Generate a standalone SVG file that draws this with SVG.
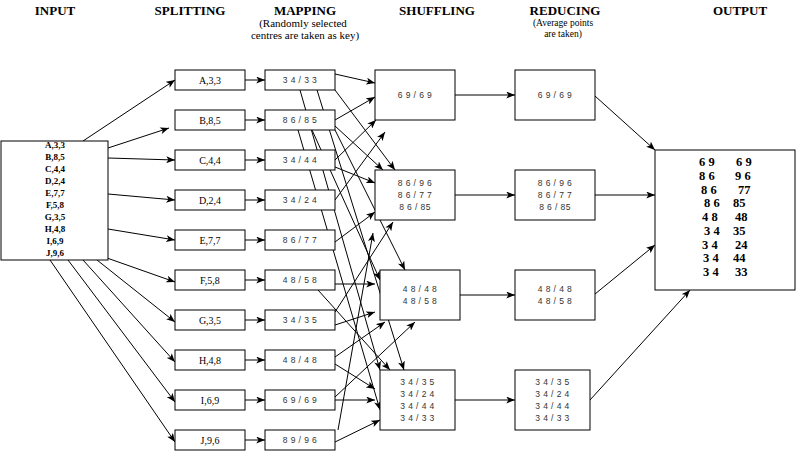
<svg xmlns="http://www.w3.org/2000/svg" width="796" height="452" viewBox="0 0 796 452">
<defs>
<marker id="ah" viewBox="0 0 10 8" refX="10" refY="4" markerWidth="9" markerHeight="7" markerUnits="userSpaceOnUse" orient="auto">
<path d="M0,0 L10,4 L0,8 L2.5,4 z" fill="#000"/>
</marker>
<style>
.hd{font-family:"Liberation Serif","Times New Roman",serif;font-weight:bold;font-size:13px;text-anchor:middle;fill:#000}
.sub{font-family:"Liberation Serif","Times New Roman",serif;font-size:11px;text-anchor:middle;fill:#000}
.sub2{font-family:"Liberation Serif","Times New Roman",serif;font-size:9.5px;text-anchor:middle;fill:#000}
.box{fill:#fff;stroke:#000;stroke-width:1}
.in{font-family:"Liberation Serif","Times New Roman",serif;font-weight:bold;font-size:9px;text-anchor:middle;fill:#000}
.sp{font-family:"Liberation Serif","Times New Roman",serif;font-size:10px;text-anchor:middle;fill:#000}
.kv{font-family:"Liberation Sans",Arial,sans-serif;font-size:8.5px;text-anchor:middle;fill:#333;white-space:pre;letter-spacing:0.4px}
.out{font-family:"Liberation Serif","Times New Roman",serif;font-weight:bold;font-size:12.5px;fill:#000;white-space:pre}
.c line{stroke:#000;stroke-width:1;marker-end:url(#ah)}
</style>
</defs>
<rect width="796" height="452" fill="#fff"/>
<g id="headers">
<text class="hd" x="55" y="15">INPUT</text>
<text class="hd" x="190" y="15">SPLITTING</text>
<text class="hd" x="305" y="15">MAPPING</text>
<text class="sub" x="303" y="27">(Randomly selected</text>
<text class="sub" x="305" y="39">centres are taken as key)</text>
<text class="hd" x="437" y="15">SHUFFLING</text>
<text class="hd" x="565" y="15">REDUCING</text>
<text class="sub2" x="563" y="26">(Average points</text>
<text class="sub2" x="563" y="37">are taken)</text>
<text class="hd" x="740" y="15">OUTPUT</text>
</g>
<g id="connectors" class="c">
<line x1="83" y1="141" x2="175" y2="80"/>
<line x1="108" y1="148" x2="169" y2="128"/>
<line x1="108" y1="158" x2="175" y2="160"/>
<line x1="108" y1="194" x2="175" y2="200"/>
<line x1="108" y1="229" x2="175" y2="240"/>
<line x1="107" y1="258" x2="175" y2="282"/>
<line x1="97" y1="260" x2="175" y2="322"/>
<line x1="83" y1="260" x2="175" y2="362"/>
<line x1="68" y1="260" x2="175" y2="402"/>
<line x1="50" y1="260" x2="175" y2="442"/>
<line x1="245" y1="80" x2="265" y2="80"/>
<line x1="245" y1="120" x2="265" y2="120"/>
<line x1="245" y1="160" x2="265" y2="160"/>
<line x1="245" y1="200" x2="265" y2="200"/>
<line x1="245" y1="240" x2="265" y2="240"/>
<line x1="245" y1="280" x2="265" y2="280"/>
<line x1="245" y1="320" x2="265" y2="320"/>
<line x1="245" y1="360" x2="265" y2="360"/>
<line x1="245" y1="400" x2="265" y2="400"/>
<line x1="245" y1="440" x2="265" y2="440"/>
<line x1="335" y1="74" x2="375" y2="83"/>
<line x1="335" y1="90" x2="395" y2="170"/>
<line x1="300" y1="90" x2="380" y2="370"/>
<line x1="317" y1="90" x2="404" y2="370"/>
<line x1="335" y1="120" x2="375" y2="97"/>
<line x1="335" y1="126" x2="383" y2="170"/>
<line x1="335" y1="130" x2="405" y2="270"/>
<line x1="298" y1="130" x2="380" y2="410"/>
<line x1="312" y1="130" x2="380" y2="280"/>
<line x1="335" y1="160" x2="376" y2="120"/>
<line x1="335" y1="167" x2="375" y2="183"/>
<line x1="335" y1="200" x2="385" y2="132"/>
<line x1="335" y1="242" x2="375" y2="212"/>
<line x1="335" y1="284" x2="375" y2="284"/>
<line x1="318" y1="290" x2="390" y2="370"/>
<line x1="335" y1="325" x2="375" y2="312"/>
<line x1="335" y1="312" x2="393" y2="222"/>
<line x1="335" y1="357" x2="385" y2="322"/>
<line x1="335" y1="364" x2="375" y2="389"/>
<line x1="335" y1="397" x2="415" y2="322"/>
<line x1="335" y1="400" x2="375" y2="400"/>
<line x1="338" y1="430" x2="373" y2="233"/>
<line x1="335" y1="442" x2="380" y2="420"/>
<line x1="455" y1="95" x2="515" y2="95"/>
<line x1="455" y1="195" x2="515" y2="195"/>
<line x1="460" y1="295" x2="515" y2="295"/>
<line x1="455" y1="400" x2="515" y2="400"/>
<line x1="595" y1="96" x2="655" y2="150"/>
<line x1="595" y1="195" x2="655" y2="195"/>
<line x1="595" y1="294" x2="655" y2="245"/>
<line x1="590" y1="400" x2="690" y2="290"/>
</g>
<g id="input">
<rect class="box" x="1" y="141" width="107" height="119"/>
<text class="in" x="55" y="148">A,3,3</text>
<text class="in" x="55" y="160">B,8,5</text>
<text class="in" x="55" y="172">C,4,4</text>
<text class="in" x="55" y="184">D,2,4</text>
<text class="in" x="55" y="196">E,7,7</text>
<text class="in" x="55" y="208">F,5,8</text>
<text class="in" x="55" y="220">G,3,5</text>
<text class="in" x="55" y="232">H,4,8</text>
<text class="in" x="55" y="244">I,6,9</text>
<text class="in" x="55" y="256">J,9,6</text>
</g>
<g id="split-a"><rect class="box" x="175" y="70" width="70" height="20"/><text class="sp" x="210" y="83.5">A,3,3</text></g>
<g id="split-b"><rect class="box" x="175" y="110" width="70" height="20"/><text class="sp" x="210" y="123.5">B,8,5</text></g>
<g id="split-c"><rect class="box" x="175" y="150" width="70" height="20"/><text class="sp" x="210" y="163.5">C,4,4</text></g>
<g id="split-d"><rect class="box" x="175" y="190" width="70" height="20"/><text class="sp" x="210" y="203.5">D,2,4</text></g>
<g id="split-e"><rect class="box" x="175" y="230" width="70" height="20"/><text class="sp" x="210" y="243.5">E,7,7</text></g>
<g id="split-f"><rect class="box" x="175" y="270" width="70" height="20"/><text class="sp" x="210" y="283.5">F,5,8</text></g>
<g id="split-g"><rect class="box" x="175" y="310" width="70" height="20"/><text class="sp" x="210" y="323.5">G,3,5</text></g>
<g id="split-h"><rect class="box" x="175" y="350" width="70" height="20"/><text class="sp" x="210" y="363.5">H,4,8</text></g>
<g id="split-i"><rect class="box" x="175" y="390" width="70" height="20"/><text class="sp" x="210" y="403.5">I,6,9</text></g>
<g id="split-j"><rect class="box" x="175" y="430" width="70" height="20"/><text class="sp" x="210" y="443.5">J,9,6</text></g>
<g id="map-a"><rect class="box" x="265" y="70" width="70" height="20"/><text class="kv" x="300" y="83">3 4 / 3 3</text></g>
<g id="map-b"><rect class="box" x="265" y="110" width="70" height="20"/><text class="kv" x="300" y="123">8 6 / 8 5</text></g>
<g id="map-c"><rect class="box" x="265" y="150" width="70" height="20"/><text class="kv" x="300" y="163">3 4 / 4 4</text></g>
<g id="map-d"><rect class="box" x="265" y="190" width="70" height="20"/><text class="kv" x="300" y="203">3 4 / 2 4</text></g>
<g id="map-e"><rect class="box" x="265" y="230" width="70" height="20"/><text class="kv" x="300" y="243">8 6 / 7 7</text></g>
<g id="map-f"><rect class="box" x="265" y="270" width="70" height="20"/><text class="kv" x="300" y="283">4 8 / 5 8</text></g>
<g id="map-g"><rect class="box" x="265" y="310" width="70" height="20"/><text class="kv" x="300" y="323">3 4 / 3 5</text></g>
<g id="map-h"><rect class="box" x="265" y="350" width="70" height="20"/><text class="kv" x="300" y="363">4 8 / 4 8</text></g>
<g id="map-i"><rect class="box" x="265" y="390" width="70" height="20"/><text class="kv" x="300" y="403">6 9 / 6 9</text></g>
<g id="map-j"><rect class="box" x="265" y="430" width="70" height="20"/><text class="kv" x="300" y="443">8 9 / 9 6</text></g>
<g id="shuffle-1"><rect class="box" x="375" y="70" width="80" height="50"/><text class="kv" x="415" y="98">6 9 / 6 9</text></g>
<g id="shuffle-2"><rect class="box" x="375" y="170" width="80" height="50"/>
<text class="kv" x="415" y="186">8 6 / 9 6</text><text class="kv" x="415" y="198">8 6 / 7 7</text><text class="kv" x="415" y="210">8 6 / 85</text></g>
<g id="shuffle-3"><rect class="box" x="380" y="270" width="80" height="50"/>
<text class="kv" x="420" y="292">4 8 / 4 8</text><text class="kv" x="420" y="304">4 8 / 5 8</text></g>
<g id="shuffle-4"><rect class="box" x="380" y="370" width="75" height="60"/>
<text class="kv" x="417.5" y="385">3 4 / 3 5</text><text class="kv" x="417.5" y="397">3 4 / 2 4</text><text class="kv" x="417.5" y="409">3 4 / 4 4</text><text class="kv" x="417.5" y="421">3 4 / 3 3</text></g>
<g id="reduce-1"><rect class="box" x="515" y="70" width="80" height="50"/><text class="kv" x="555" y="98">6 9 / 6 9</text></g>
<g id="reduce-2"><rect class="box" x="515" y="170" width="80" height="50"/>
<text class="kv" x="555" y="186">8 6 / 9 6</text><text class="kv" x="555" y="198">8 6 / 7 7</text><text class="kv" x="555" y="210">8 6 / 85</text></g>
<g id="reduce-3"><rect class="box" x="515" y="270" width="80" height="50"/>
<text class="kv" x="555" y="292">4 8 / 4 8</text><text class="kv" x="555" y="304">4 8 / 5 8</text></g>
<g id="reduce-4"><rect class="box" x="515" y="370" width="75" height="60"/>
<text class="kv" x="552.5" y="385">3 4 / 3 5</text><text class="kv" x="552.5" y="397">3 4 / 2 4</text><text class="kv" x="552.5" y="409">3 4 / 4 4</text><text class="kv" x="552.5" y="421">3 4 / 3 3</text></g>
<g id="output">
<rect class="box" x="655" y="150" width="140" height="140"/>
<text class="out" x="699" y="166">6 9</text><text class="out" x="736" y="166">6 9</text>
<text class="out" x="699" y="180">8 6</text><text class="out" x="735" y="180">9 6</text>
<text class="out" x="701" y="194">8 6</text><text class="out" x="738" y="194">77</text>
<text class="out" x="704" y="207">8 6</text><text class="out" x="733" y="207">85</text>
<text class="out" x="702" y="221">4 8</text><text class="out" x="735" y="221">48</text>
<text class="out" x="704" y="235">3 4</text><text class="out" x="733" y="235">35</text>
<text class="out" x="702" y="249">3 4</text><text class="out" x="735" y="249">24</text>
<text class="out" x="703" y="262">3 4</text><text class="out" x="733" y="262">44</text>
<text class="out" x="703" y="276">3 4</text><text class="out" x="735" y="276">33</text>
</g>
</svg>
